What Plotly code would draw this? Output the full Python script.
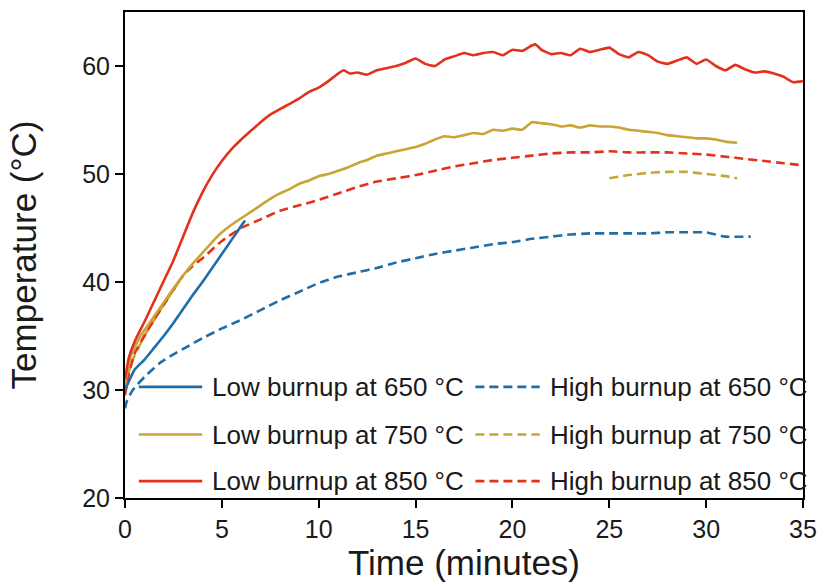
import plotly.graph_objects as go

# ---- data ----
t_low650 = [0, 0.2, 0.5, 1, 1.5, 2, 2.5, 3, 3.5, 4, 4.5, 5, 5.5, 6, 6.2]
y_low650 = [30.0, 30.8, 31.9, 32.8, 33.9, 35.0, 36.2, 37.5, 38.8, 40.0, 41.3, 42.6, 43.9, 45.2, 45.7]

t_low750 = [0, 0.3, 0.8, 1.5, 2, 2.5, 3, 3.5, 4, 4.5, 5, 5.5, 6, 6.5, 7, 7.5, 8, 8.5, 9, 9.5,
            10, 10.5, 11, 11.5, 12, 12.5, 13, 13.5, 14, 14.5, 15, 15.5, 16, 16.5, 17, 17.5,
            18, 18.5, 19, 19.5, 20, 20.5, 21, 21.5, 22, 22.5, 23, 23.5, 24, 24.5, 25, 25.5,
            26, 26.5, 27, 27.5, 28, 28.5, 29, 29.5, 30, 30.5, 31, 31.6]
y_low750 = [30.5, 33.2, 35.0, 36.8, 38.1, 39.4, 40.6, 41.7, 42.7, 43.7, 44.6, 45.3, 45.9, 46.5,
            47.1, 47.7, 48.2, 48.6, 49.1, 49.4, 49.8, 50.0, 50.3, 50.6, 51.0, 51.3, 51.7, 51.9,
            52.1, 52.3, 52.5, 52.8, 53.2, 53.5, 53.4, 53.6, 53.8, 53.7, 54.1, 54.0, 54.2, 54.1,
            54.8, 54.7, 54.6, 54.4, 54.5, 54.3, 54.5, 54.4, 54.4, 54.3, 54.1, 54.0, 53.9, 53.8,
            53.6, 53.5, 53.4, 53.3, 53.3, 53.2, 53.0, 52.9]

t_low850 = [0, 0.2, 0.5, 1, 1.5, 2, 2.5, 3, 3.5, 4, 4.5, 5, 5.5, 6, 6.5, 7, 7.5, 8, 8.5, 9,
            9.5, 10, 10.5, 11, 11.3, 11.6, 12, 12.5, 13, 13.5, 14, 14.5, 15, 15.5, 16, 16.5,
            17, 17.5, 18, 18.5, 19, 19.5, 20, 20.5, 21, 21.2, 21.5, 22, 22.5, 23, 23.5, 24,
            24.5, 25, 25.5, 26, 26.5, 27, 27.5, 28, 28.5, 29, 29.5, 30, 30.5, 31, 31.5, 32,
            32.5, 33, 33.5, 34, 34.5, 35]
y_low850 = [31.0, 33.0, 34.5, 36.3, 38.2, 40.1, 42.0, 44.2, 46.4, 48.3, 49.9, 51.2, 52.3,
            53.2, 54.0, 54.8, 55.5, 56.0, 56.5, 57.0, 57.6, 58.0, 58.6, 59.3, 59.6, 59.3, 59.4,
            59.2, 59.6, 59.8, 60.0, 60.3, 60.7, 60.2, 60.0, 60.6, 60.9, 61.2, 61.0, 61.2, 61.3,
            61.0, 61.5, 61.4, 61.9, 62.0, 61.5, 61.1, 61.2, 61.0, 61.6, 61.3, 61.5, 61.7, 61.1,
            60.8, 61.3, 61.0, 60.4, 60.2, 60.5, 60.8, 60.2, 60.6, 60.0, 59.6, 60.1, 59.7, 59.4,
            59.5, 59.3, 59.0, 58.5, 58.6]

t_high650 = [0, 0.1, 0.4, 1, 1.8, 2.5, 3.2, 4, 5, 6, 7, 8, 9, 10, 11, 12, 13, 14, 15, 16, 17,
             18, 19, 20, 21, 22, 23, 24, 25, 26, 27, 28, 29, 30, 31, 32.3]
y_high650 = [28.3, 29.0, 30.0, 31.2, 32.5, 33.3, 34.0, 34.8, 35.7, 36.5, 37.4, 38.3, 39.1,
             39.9, 40.5, 40.9, 41.3, 41.8, 42.2, 42.6, 42.9, 43.2, 43.5, 43.7, 44.0, 44.2,
             44.4, 44.5, 44.5, 44.5, 44.5, 44.6, 44.6, 44.6, 44.2, 44.2]

t_high750 = [0, 0.3, 1, 2, 3, None, 25, 26, 27, 28, 29, 30, 31, 31.6]
y_high750 = [30.0, 32.4, 35.0, 37.9, 40.6, None, 49.6, 49.9, 50.1, 50.2, 50.2, 50.0, 49.8, 49.6]

t_high850 = [0, 0.2, 0.5, 1, 1.5, 2, 2.5, 3, 3.5, 4, 5, 6, 7, 8, 9, 10, 11, 12, 13, 14, 15,
             16, 17, 18, 19, 20, 21, 22, 23, 24, 25, 26, 27, 28, 29, 30, 31, 32, 33, 34, 35]
y_high850 = [29.5, 31.5, 33.4, 35.0, 36.5, 37.9, 39.3, 40.6, 41.5, 42.2, 43.8, 45.0, 45.8,
             46.6, 47.1, 47.6, 48.2, 48.8, 49.3, 49.6, 49.9, 50.3, 50.7, 51.0, 51.3, 51.5,
             51.7, 51.9, 52.0, 52.0, 52.1, 52.0, 52.0, 52.0, 51.9, 51.8, 51.6, 51.4, 51.2,
             51.0, 50.8]

series_names = ["Low burnup at 650 °C", "High burnup at 650 °C",
                "Low burnup at 750 °C", "High burnup at 750 °C",
                "Low burnup at 850 °C", "High burnup at 850 °C"]
x_ticks = [0, 5, 10, 15, 20, 25, 30, 35]
y_ticks = [20, 30, 40, 50, 60]

BLUE = "#1f6ea8"
GOLD = "#c9a437"
RED = "#e2321c"
FONT = "Liberation Sans, Arial, sans-serif"
DASH = "9px,5px"
LW = 2.6

fig = go.Figure()
traces = [
    (t_high650, y_high650, BLUE, DASH, series_names[1]),
    (t_high750, y_high750, GOLD, DASH, series_names[3]),
    (t_high850, y_high850, RED, DASH, series_names[5]),
    (t_low650, y_low650, BLUE, "solid", series_names[0]),
    (t_low750, y_low750, GOLD, "solid", series_names[2]),
    (t_low850, y_low850, RED, "solid", series_names[4]),
]
for tx, ty, col, dash, name in traces:
    fig.add_trace(go.Scatter(x=tx, y=ty, mode="lines", name=name,
                             line=dict(color=col, width=LW, dash=dash, shape="spline", smoothing=0.4),
                             connectgaps=False, showlegend=False))

# ---- manual legend (two columns, three rows) ----
legend_items = [
    (series_names[0], BLUE, "solid", 0), (series_names[1], BLUE, DASH, 1),
    (series_names[2], GOLD, "solid", 0), (series_names[3], GOLD, DASH, 1),
    (series_names[4], RED, "solid", 0), (series_names[5], RED, DASH, 1),
]
row_y = [0.2286, 0.1306, 0.0347]
col_line = [(0.0204, 0.1139), (0.5168, 0.6117)]
col_text = [0.1255, 0.6234]
for i, (name, col, dash, c) in enumerate(legend_items):
    yy = row_y[i // 2]
    x0, x1 = col_line[c]
    fig.add_shape(type="line", xref="paper", yref="paper", x0=x0, x1=x1, y0=yy, y1=yy,
                  line=dict(color=col, width=LW, dash=dash))
    fig.add_annotation(xref="paper", yref="paper", x=col_text[c], y=yy, text=name,
                       showarrow=False, xanchor="left", yanchor="middle",
                       font=dict(family=FONT, size=26, color="#1a1a1a"))

axis_common = dict(showline=True, linecolor="black", linewidth=2, mirror=True,
                   ticks="outside", ticklen=8, tickwidth=2, tickcolor="black",
                   showgrid=False, zeroline=False,
                   tickfont=dict(family=FONT, size=25, color="#1a1a1a"))
fig.update_xaxes(range=[0, 35], tickvals=x_ticks,
                 title=dict(text="Time (minutes)", font=dict(family=FONT, size=35, color="#1a1a1a"),
                            standoff=8),
                 **axis_common)
fig.update_yaxes(range=[20, 65], tickvals=y_ticks,
                 title=dict(text="Temperature (°C)", font=dict(family=FONT, size=35, color="#1a1a1a"),
                            standoff=35),
                 **axis_common)
fig.update_layout(width=827, height=586, margin=dict(l=125, r=17, t=10, b=86),
                  plot_bgcolor="white", paper_bgcolor="white",
                  font=dict(family=FONT))
fig.write_html("out.html")
